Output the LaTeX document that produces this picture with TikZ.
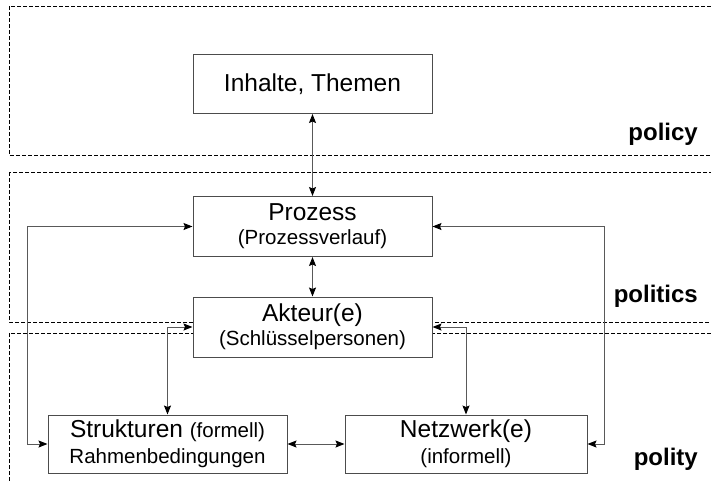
\documentclass[tikz,border=0pt]{standalone}
\usepackage{fontspec}
\setmainfont{Liberation Sans}
\usetikzlibrary{arrows.meta}
\newcommand{\mainsz}{\fontsize{24.5}{25}\selectfont}
\newcommand{\subsz}{\fontsize{20.5}{25}\selectfont}
\newcommand{\lblsz}{\fontsize{24}{26}\selectfont\bfseries}
\tikzset{
  box/.style={draw=black!70, line width=1pt, fill=white, minimum width=239pt,
    minimum height=59pt, inner sep=0pt, align=center, font=\mainsz},
  zone/.style={draw=black, line width=0.9pt, dash pattern=on 4pt off 2pt},
  tip/.style={Stealth[length=9pt,width=7pt,inset=1.5pt,color=black]},
  arr/.style={draw=black!65, line width=1pt, {Stealth[length=9pt,width=7pt,inset=1.5pt,color=black]}-{Stealth[length=9pt,width=7pt,inset=1.5pt,color=black]}},
  lbl/.style={anchor=base east, font=\lblsz, inner sep=0pt}
}
\begin{document}
\begin{tikzpicture}[x=1pt,y=-1pt]
  \useasboundingbox (0,0) rectangle (711,482);
  % levels
  \draw[zone] (9,6) rectangle (730,155);
  \draw[zone] (9,172) rectangle (730,322);
  \draw[zone] (9,333) rectangle (730,500);
  \node[lbl] (lpolicy) at (698,140) {policy};
  \node[lbl] (lpolitics) at (698,302) {politics};
  \node[lbl] (lpolity) at (698,465) {polity};
  % boxes
  \node[box] (inh) at (312.5,84) {Inhalte, Themen};
  \node[box, minimum height=60pt] (proz) at (312.5,226.5) {Prozess\\[-1pt]{\subsz (Prozessverlauf)}};
  \node[box, minimum height=60pt] (akt) at (312.5,327) {Akteur(e)\\[-1pt]{\subsz (Schlüsselpersonen)}};
  \node[box, minimum height=58pt] (struk) at (167.5,444) {Strukturen {\subsz (formell)}\\[1pt]{\subsz Rahmenbedingungen}};
  \node[box, minimum width=242pt, minimum height=58pt] (netz) at (466,444) {Netzwerk(e)\\[1pt]{\subsz (informell)}};
  % connectors
  \draw[arr] (inh.south) -- (proz.north);
  \draw[arr] (proz.south) -- (akt.north);
  \draw[arr] (struk.west) -- ++(-20,0) |- (proz.west);
  \draw[arr] (netz.east) -- ++(17,0) |- (proz.east);
  \draw[arr] (akt.west) -| (struk.north);
  \draw[arr] (akt.east) -| (netz.north);
  \draw[arr] (struk.east) -- (netz.west);
\end{tikzpicture}
\end{document}
